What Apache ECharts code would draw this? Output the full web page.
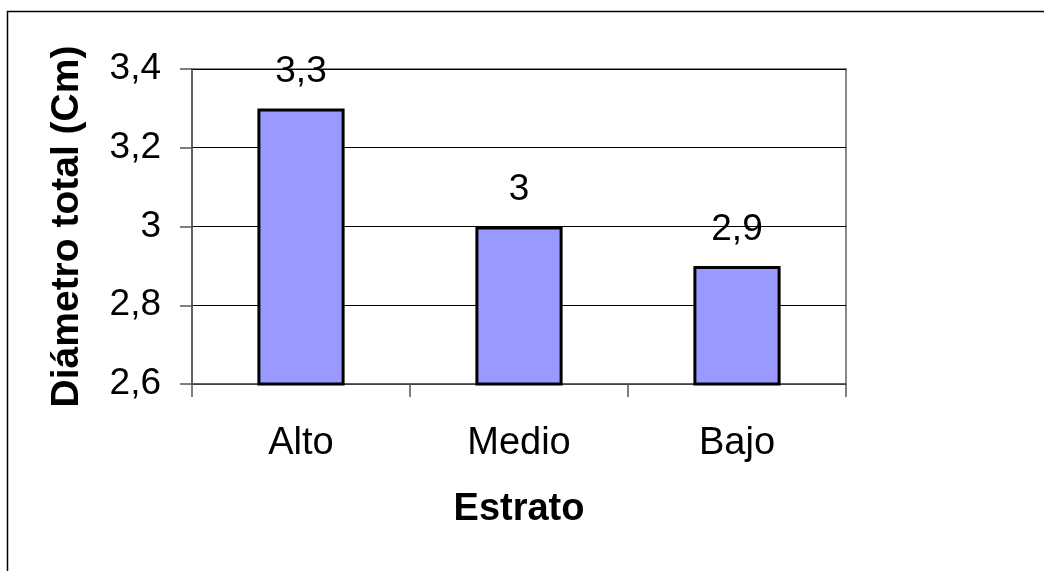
<!DOCTYPE html>
<html>
<head>
<meta charset="utf-8">
<script src="https://cdn.jsdelivr.net/npm/echarts@6/dist/echarts.min.js"></script>
<style>
  html, body { margin: 0; padding: 0; background: #fff; }
  #chart { width: 1044px; height: 571px; }
</style>
</head>
<body>
<div id="chart"></div>
<script>
// Diámetro total por estrato
const categories = ['Alto', 'Medio', 'Bajo'];
const diametro = [3.3, 3.0, 2.9];
const yMin = 2.6, yMax = 3.4, yStep = 0.2;

const comma = v => String(+v.toFixed(2)).replace('.', ',');
const font = 'Liberation Sans, Arial, sans-serif';

const chart = echarts.init(document.getElementById('chart'), null, { renderer: 'canvas' });
chart.setOption({
  animation: false,
  backgroundColor: '#fff',
  graphic: [{
    type: 'rect',
    shape: { x: 7.5, y: 11.5, width: 1200, height: 700 },
    style: { fill: 'none', stroke: '#000', lineWidth: 1.5 },
    silent: true, z: -1
  }],
  grid: {
    left: 192, top: 69, width: 654, height: 315,
    show: true, borderColor: '#888', borderWidth: 2, backgroundColor: 'transparent'
  },
  xAxis: {
    type: 'category',
    data: categories,
    name: 'Estrato',
    nameLocation: 'middle',
    nameGap: 107,
    nameTextStyle: { fontFamily: font, fontSize: 38, fontWeight: 'bold', color: '#000' },
    axisLine: { lineStyle: { color: '#555', width: 1.5 } },
    axisTick: { show: true, length: 13, alignWithLabel: false, lineStyle: { color: '#555', width: 1.5 } },
    axisLabel: { fontFamily: font, fontSize: 38, color: '#000', margin: 41 }
  },
  yAxis: {
    type: 'value',
    min: yMin, max: yMax, interval: yStep,
    name: 'Diámetro total (Cm)',
    nameLocation: 'middle',
    nameGap: 105,
    nameRotate: 90,
    nameTextStyle: { fontFamily: font, fontSize: 39, fontWeight: 'bold', color: '#000' },
    axisLine: { show: true, lineStyle: { color: '#555', width: 1.5 } },
    axisTick: { show: true, length: 12, lineStyle: { color: '#555', width: 1.5 } },
    axisLabel: { fontFamily: font, fontSize: 37, color: '#000', margin: 31, formatter: v => comma(v) },
    splitLine: { show: true, lineStyle: { color: '#000', width: 1 } }
  },
  series: [{
    type: 'bar',
    data: diametro,
    barWidth: '40%',
    itemStyle: { color: '#9999FF', borderColor: '#000', borderWidth: 3 },
    label: {
      show: true, position: 'top', distance: 18,
      fontFamily: font, fontSize: 37, color: '#000',
      formatter: p => comma(p.value)
    }
  }]
});
</script>
</body>
</html>
